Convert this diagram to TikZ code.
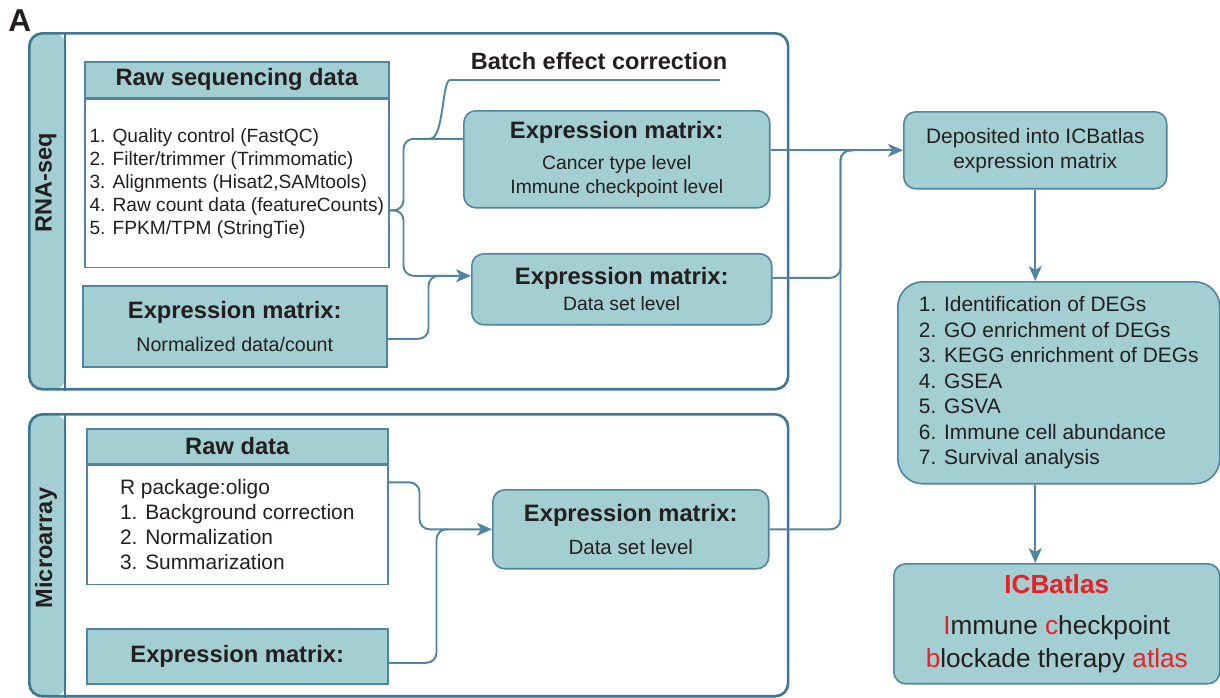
\documentclass[tikz,border=0pt]{standalone}
\usepackage{fontspec}
\setmainfont{Liberation Sans}
\usetikzlibrary{arrows.meta,positioning}

\definecolor{boxfill}{RGB}{163,206,210}
\definecolor{boxedge}{RGB}{80,132,160}
\definecolor{paneledge}{RGB}{62,118,148}
\definecolor{atlasred}{RGB}{232,32,40}
\definecolor{inktext}{RGB}{35,31,32}

\newcommand\emhead{{\fontsize{13.5}{16}\selectfont\bfseries Expression matrix:}}

\tikzset{
  panel/.style={draw=paneledge, line width=1.5pt, rounded corners=0.26cm, anchor=north west, inner sep=0pt,
    path picture={\fill[boxfill] (path picture bounding box.north west) rectangle ([xshift=0.74cm]path picture bounding box.south west);}},
  panellabel/.style={rotate=90, font=\fontsize{13.4}{14}\selectfont\bfseries},
  tealbox/.style={draw=boxedge, fill=boxfill, line width=0.9pt, anchor=north west, inner sep=0pt, align=center, font=\fontsize{11}{13.6}\selectfont},
  headbox/.style={tealbox, font=\fontsize{13.5}{16}\selectfont\bfseries},
  roundbox/.style={tealbox, rounded corners=0.24cm},
  listbox/.style={draw=boxedge, fill=white, line width=0.9pt, anchor=north west, inner sep=0pt, align=left},
  link/.style={draw=boxedge, line width=1.1pt, rounded corners=0.2cm},
  tip/.style={-{Stealth[length=0.3cm,width=0.26cm,inset=0.08cm]}}
}

\begin{document}
\begin{tikzpicture}[x=0.02cm, y=-0.02cm, every node/.style={text=inktext}]
\useasboundingbox (0,0) rectangle (1220,697);

\node[anchor=north west, inner sep=0pt, font=\fontsize{18}{18}\selectfont\bfseries] (panelA) at (8,9) {A};

% RNA-seq panel
\node[panel, minimum width=15.18cm, minimum height=7.12cm] (rnapanel) at (28,32) {};
\draw[paneledge, line width=1.5pt] ([xshift=0.74cm]rnapanel.north west) -- ([xshift=0.74cm]rnapanel.south west);
\node[panellabel] (rnalabel) at (46,183) {RNA-seq};

\node[headbox, minimum width=6.08cm, minimum height=0.72cm] (rawhead) at (84,61) {Raw sequencing data};
\node[listbox, minimum width=6.08cm, minimum height=3.36cm, font=\fontsize{10.9}{13.1}\selectfont] (rawbody) at (rawhead.south west) {1. Quality control (FastQC)\\2. Filter/trimmer (Trimmomatic)\\3. Alignments (Hisat2,SAMtools)\\4. Raw count data (featureCounts)\\5. FPKM/TPM (StringTie)};
\node[tealbox, minimum width=6.08cm, minimum height=1.62cm, font=\fontsize{11.2}{13.6}\selectfont] (normbox) at (82,285) {\emhead\\[5pt]Normalized data/count};

\node[font=\fontsize{13.4}{16}\selectfont\bfseries] (batchlabel) at (599,61) {Batch effect correction};
\node[roundbox, minimum width=6.12cm, minimum height=1.94cm] (emcancer) at (463,110) {\emhead\\[4pt]Cancer type level\\Immune checkpoint level};
\node[roundbox, minimum width=6.0cm, minimum height=1.42cm] (emrnads) at (471,253) {\emhead\\[1pt]Data set level};

% Microarray panel
\node[panel, minimum width=15.18cm, minimum height=5.64cm] (micropanel) at (28,413) {};
\draw[paneledge, line width=1.5pt] ([xshift=0.74cm]micropanel.north west) -- ([xshift=0.74cm]micropanel.south west);
\node[panellabel] (microlabel) at (46,548) {Microarray};

\node[headbox, minimum width=6.02cm, minimum height=0.7cm] (rawahead) at (86,428) {Raw data};
\node[listbox, minimum width=6.02cm, minimum height=2.38cm, font=\fontsize{11.9}{14.2}\selectfont] (rawabody) at (rawahead.south west) {R package:oligo\\1. Background correction\\2. Normalization\\3. Summarization};
\node[headbox, minimum width=6.02cm, minimum height=1.1cm] (microem) at (86,628) {Expression matrix:};
\node[roundbox, minimum width=5.52cm, minimum height=1.58cm, font=\fontsize{11.7}{14}\selectfont] (microds) at (492,489) {\emhead\\[5pt]Data set level};

% ICBatlas side
\node[roundbox, minimum width=5.26cm, minimum height=1.54cm, font=\fontsize{11.9}{14.2}\selectfont] (depbox) at (903,111) {Deposited into ICBatlas\\expression matrix};
\node[roundbox, rounded corners=0.5cm, align=left, minimum width=6.44cm, minimum height=4.04cm, font=\fontsize{11.9}{14.5}\selectfont] (analysis) at (897,281) {1. Identification of DEGs\\2. GO enrichment of DEGs\\3. KEGG enrichment of DEGs\\4. GSEA\\5. GSVA\\6. Immune cell abundance\\7. Survival analysis};
\node[roundbox, minimum width=6.52cm, minimum height=2.4cm, font=\fontsize{14.9}{18.7}\selectfont] (icbbox) at (893,563) {{\bfseries\color{atlasred}ICBatlas}\\[5pt]{\color{atlasred}I}mmune {\color{atlasred}c}heckpoint\\{\color{atlasred}b}lockade therapy {\color{atlasred}atlas}};

% connectors
\coordinate (batchfork) at ([xshift=-0.66cm,yshift=0.41cm]emcancer.west);
\coordinate (batchtop) at (460,80);
\coordinate (batchend) at (720,80);
\draw[link] ([yshift=-0.54cm]rawbody.east) -- ++(0.28cm,0) |- ([yshift=0.41cm]emcancer.west);
\draw[link] (batchfork) .. controls +(14,0) and +(-18,0) .. (batchtop) -- (batchend);
\draw[link, tip] ([yshift=-0.54cm]rawbody.east) -- ++(0.28cm,0) |- ([yshift=0.27cm]emrnads.west);
\draw[link] ([yshift=-0.25cm]normbox.east) -- ++(0.82cm,0) |- ([xshift=-0.5cm,yshift=0.27cm]emrnads.west);

\draw[link, tip] ([yshift=0.85cm]rawabody.east) -- ++(0.62cm,0) |- (microds.west);
\draw[link] ([yshift=-0.13cm]microem.east) -- ++(0.96cm,0) |- ([xshift=-0.9cm]microds.west);

\draw[link, tip] (emcancer.east |- depbox.west) -- (depbox.west);
\draw[link] ([yshift=0.23cm]emrnads.east) -- ++(1.36cm,0) |- ([xshift=-1cm]depbox.west);
\draw[link] (microds.east) -- ++(1.42cm,0) |- ([xshift=-1cm]depbox.west);

\draw[link, tip] (depbox.south) -- (depbox.south |- analysis.north);
\draw[link, tip] (depbox.south |- analysis.south) -- (depbox.south |- icbbox.north);
\end{tikzpicture}
\end{document}
